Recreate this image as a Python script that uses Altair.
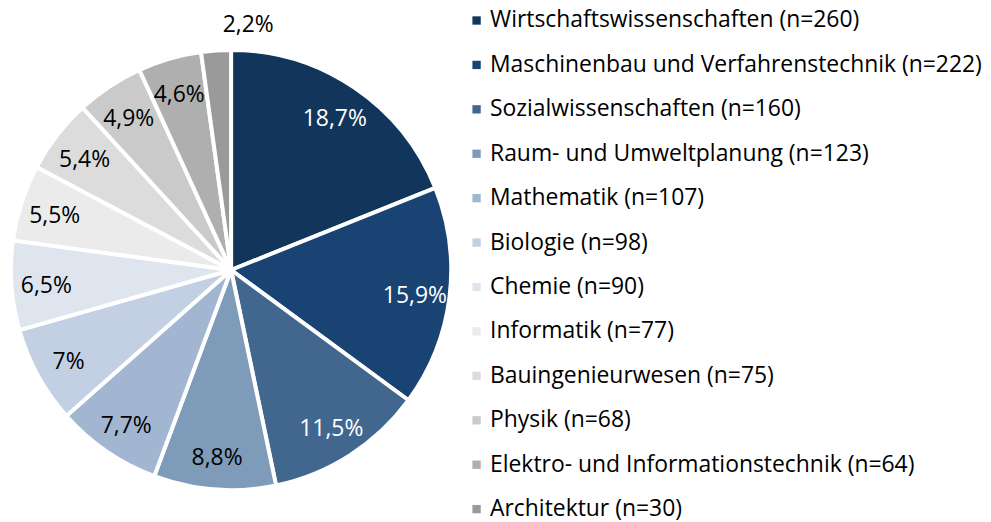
import altair as alt
import pandas as pd

categories = ["Wirtschaftswissenschaften", "Maschinenbau und Verfahrenstechnik",
              "Sozialwissenschaften", "Raum- und Umweltplanung", "Mathematik",
              "Biologie", "Chemie", "Informatik", "Bauingenieurwesen", "Physik",
              "Elektro- und Informationstechnik", "Architektur"]
counts = [260, 222, 160, 123, 107, 98, 90, 77, 75, 68, 64, 30]
pct_labels = ["18,7%", "15,9%", "11,5%", "8,8%", "7,7%", "7%", "6,5%",
              "5,5%", "5,4%", "4,9%", "4,6%", "2,2%"]
colors = ["#12355B", "#194373", "#42678F", "#7F9BBA", "#A2B6D2", "#C3D0E3",
          "#DEE5EF", "#EBEBEB", "#DCDCDC", "#CACACA", "#AFAFAF", "#9A9A9A"]

legend_labels = [f"{c} (n={n})" for c, n in zip(categories, counts)]
df = pd.DataFrame({
    "idx": list(range(len(categories))),
    "label": legend_labels,
    "n": counts,
    "pct": pct_labels,
})

FONT = "Open Sans"
CX, CY = 224, 262

base = alt.Chart(df).encode(
    theta=alt.Theta("n:Q", stack=True),
    order=alt.Order("idx:Q"),
)

arcs = base.mark_arc(outerRadius=221, stroke="white", strokeWidth=4,
                     strokeJoin="round").encode(
    x=alt.value(CX), y=alt.value(CY),
    color=alt.Color("label:N",
                    scale=alt.Scale(domain=legend_labels, range=colors),
                    sort=legend_labels,
                    legend=alt.Legend(title=None, orient="none", legendX=459, legendY=0,
                                      padding=0,
                                      symbolType="square", symbolSize=70,
                                      symbolStrokeWidth=0,
                                      labelFont=FONT, labelFontSize=23,
                                      labelColor="#000000", labelOffset=2,
                                      rowPadding=20.6, labelLimit=600)),
)

texts = base.transform_calculate(
    lr="datum.n < 50 ? 250 : 186",
    tc="datum.n > 150 ? 'white' : 'black'",
).mark_text(font=FONT, fontSize=23, dy=3).encode(
    x=alt.value(CX), y=alt.value(CY),
    radius=alt.Radius("lr:Q", scale=None),
    text="pct:N",
    color=alt.Color("tc:N", scale=None),
)

chart = alt.layer(arcs, texts).properties(
    width=448, height=500, padding=0
).configure_view(stroke=None)

chart.save("out.html", embed_options={"renderer": "svg", "actions": False})
